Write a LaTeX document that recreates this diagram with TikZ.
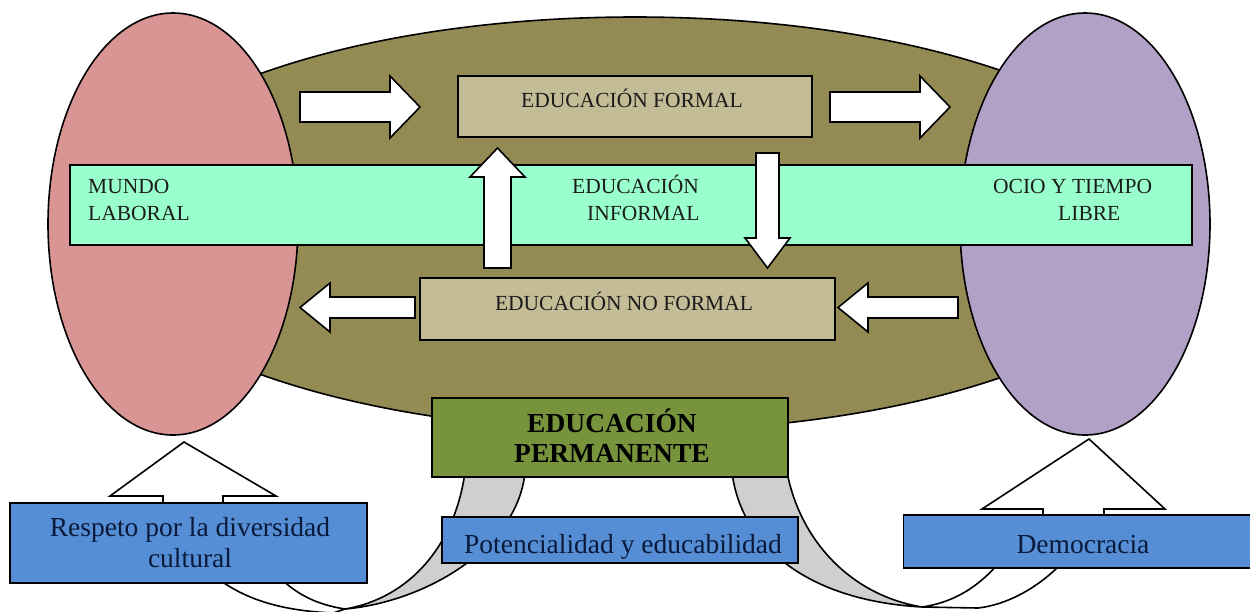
\documentclass[tikz,border=0pt]{standalone}
\usepackage{fontspec}
\setmainfont{Liberation Serif}
\usetikzlibrary{shapes.geometric}
\definecolor{olivefill}{HTML}{948A54}
\definecolor{pinkfill}{HTML}{D99594}
\definecolor{purplefill}{HTML}{B2A1C7}
\definecolor{mintfill}{HTML}{99FFCC}
\definecolor{tanfill}{HTML}{C4BC96}
\definecolor{greenfill}{HTML}{77933C}
\definecolor{bluefill}{HTML}{558ED5}
\definecolor{grayfill}{HTML}{CFCFCF}
\definecolor{darktext}{HTML}{1C1C1C}
\definecolor{navytext}{HTML}{0A1A3A}
\tikzset{
  outline/.style={draw=black, line width=1.6pt},
  blob/.style={outline, ellipse, inner sep=0pt},
  tanbox/.style={outline, fill=tanfill, inner sep=0pt},
  bluebox/.style={outline, fill=bluefill, inner sep=0pt},
  greenbox/.style={outline, fill=greenfill, inner sep=0pt},
  blockarrow/.style={outline, fill=white, line join=miter},
  curvedgray/.style={outline, fill=grayfill},
  curvedwhite/.style={outline, fill=white},
  txtsmall/.style={font=\fontsize{21.5}{27}\selectfont, text=darktext, inner sep=0pt},
  txtbig/.style={font=\fontsize{27.5}{31}\selectfont, text=navytext, inner sep=0pt},
  txtbold/.style={font=\bfseries\fontsize{27.5}{30}\selectfont, text=black, inner sep=0pt},
}
\begin{document}
\begin{tikzpicture}[x=1pt,y=-1pt]
\useasboundingbox (0,0) rectangle (1250,611);
\clip (0,0) rectangle (1250,611);

% big olive ellipse
\node[blob, fill=olivefill, minimum width=1090pt, minimum height=414pt] (olive) at (635,224) {};
% side ellipses
\node[blob, fill=pinkfill, minimum width=250pt, minimum height=422pt] (laboral) at (173,224) {};
\node[blob, fill=purplefill, minimum width=250pt, minimum height=422pt] (ocio) at (1085,224) {};

% mint band
\node[outline, fill=mintfill, inner sep=0pt, minimum width=1122pt, minimum height=80pt] (band) at (631,205) {};

% tan boxes
\node[tanbox, minimum width=354pt, minimum height=61pt] (formal) at (635,106.5) {};
\node[tanbox, minimum width=415pt, minimum height=62pt] (noformal) at (627.5,309) {};

% white block arrows
\draw[blockarrow] (300,92) -- (390,92) -- (390,76) -- (420,107) -- (390,138) -- (390,122) -- (300,122) -- cycle;
\draw[blockarrow] (830,92) -- (920,92) -- (920,76) -- (950,107) -- (920,138) -- (920,122) -- (830,122) -- cycle;
\draw[blockarrow] (415,297) -- (330,297) -- (330,283) -- (300,307.5) -- (330,332) -- (330,318) -- (415,318) -- cycle;
\draw[blockarrow] (958,297) -- (868,297) -- (868,283) -- (838,307.5) -- (868,332) -- (868,318) -- (958,318) -- cycle;
\draw[blockarrow] (484,268) -- (484,177) -- (470,177) -- (497.5,148) -- (525,177) -- (511,177) -- (511,268) -- cycle;
\draw[blockarrow] (756,153) -- (779,153) -- (779,238) -- (790,238) -- (767.5,268) -- (745,238) -- (756,238) -- cycle;

% curved arrows (left)
\draw[curvedgray] (465,472) .. controls (455,545) and (410,598) .. (345,609)
   .. controls (425,602) and (518,548) .. (525,472) -- cycle;
\draw[curvedwhite] (345,609) -- (333,613) .. controls (290,611) and (250,603) .. (217,578)
   -- (280,578) .. controls (300,597) and (320,605) .. (345,609) -- cycle;
% curved arrows (right)
\draw[curvedgray] (732,472) .. controls (740,540) and (800,600) .. (922,607)
   .. controls (850,595) and (800,540) .. (787,472) -- cycle;
\draw[curvedwhite] (922,607) -- (978,608) .. controls (1005,605) and (1035,590) .. (1060,565)
   -- (997,565) .. controls (975,590) and (950,603) .. (922,607) -- cycle;

% up arrows under the ellipses
\draw[blockarrow] (184,442) -- (276,496) -- (223,496) -- (223,510) -- (163,510) -- (163,496) -- (110,496) -- cycle;
\draw[blockarrow] (1089,439) -- (1165,509) -- (1104,509) -- (1104,522) -- (1043,522) -- (1043,509) -- (982,509) -- cycle;

% green box
\node[greenbox, minimum width=356pt, minimum height=79pt] (perm) at (610,437.5) {};

% blue boxes
\node[bluebox, minimum width=357pt, minimum height=80pt] (respeto) at (188.5,543) {};
\node[bluebox, minimum width=356pt, minimum height=46pt] (poten) at (620,540) {};
\node[bluebox, minimum width=350pt, minimum height=53pt] (demo) at (1078.5,541.5) {};

% texts
\node[txtsmall, align=left, anchor=west] (tlaboral) at (88,200) {MUNDO\\LABORAL};
\node[txtsmall, align=left, anchor=west] (tinformal) at (572,198) {EDUCACIÓN\\\hspace*{15pt}INFORMAL};
\node[txtsmall, align=left, anchor=west] (tocio) at (993,200) {OCIO Y TIEMPO\\\hspace*{65pt}LIBRE};
\node[txtsmall, anchor=base] (tformal) at (632,107) {EDUCACIÓN FORMAL};
\node[txtsmall, anchor=base] (tnoformal) at (624,310) {EDUCACIÓN NO FORMAL};
\node[txtbold, align=center] (tperm) at (612,436) {EDUCACIÓN\\PERMANENTE};
\node[txtbig, align=center] (trespeto) at (190,543) {Respeto por la diversidad\\cultural};
\node[txtbig, anchor=base] (tpoten) at (623,553) {Potencialidad y educabilidad};
\node[txtbig, anchor=base] (tdemo) at (1083,553) {Democracia};
\end{tikzpicture}
\end{document}
